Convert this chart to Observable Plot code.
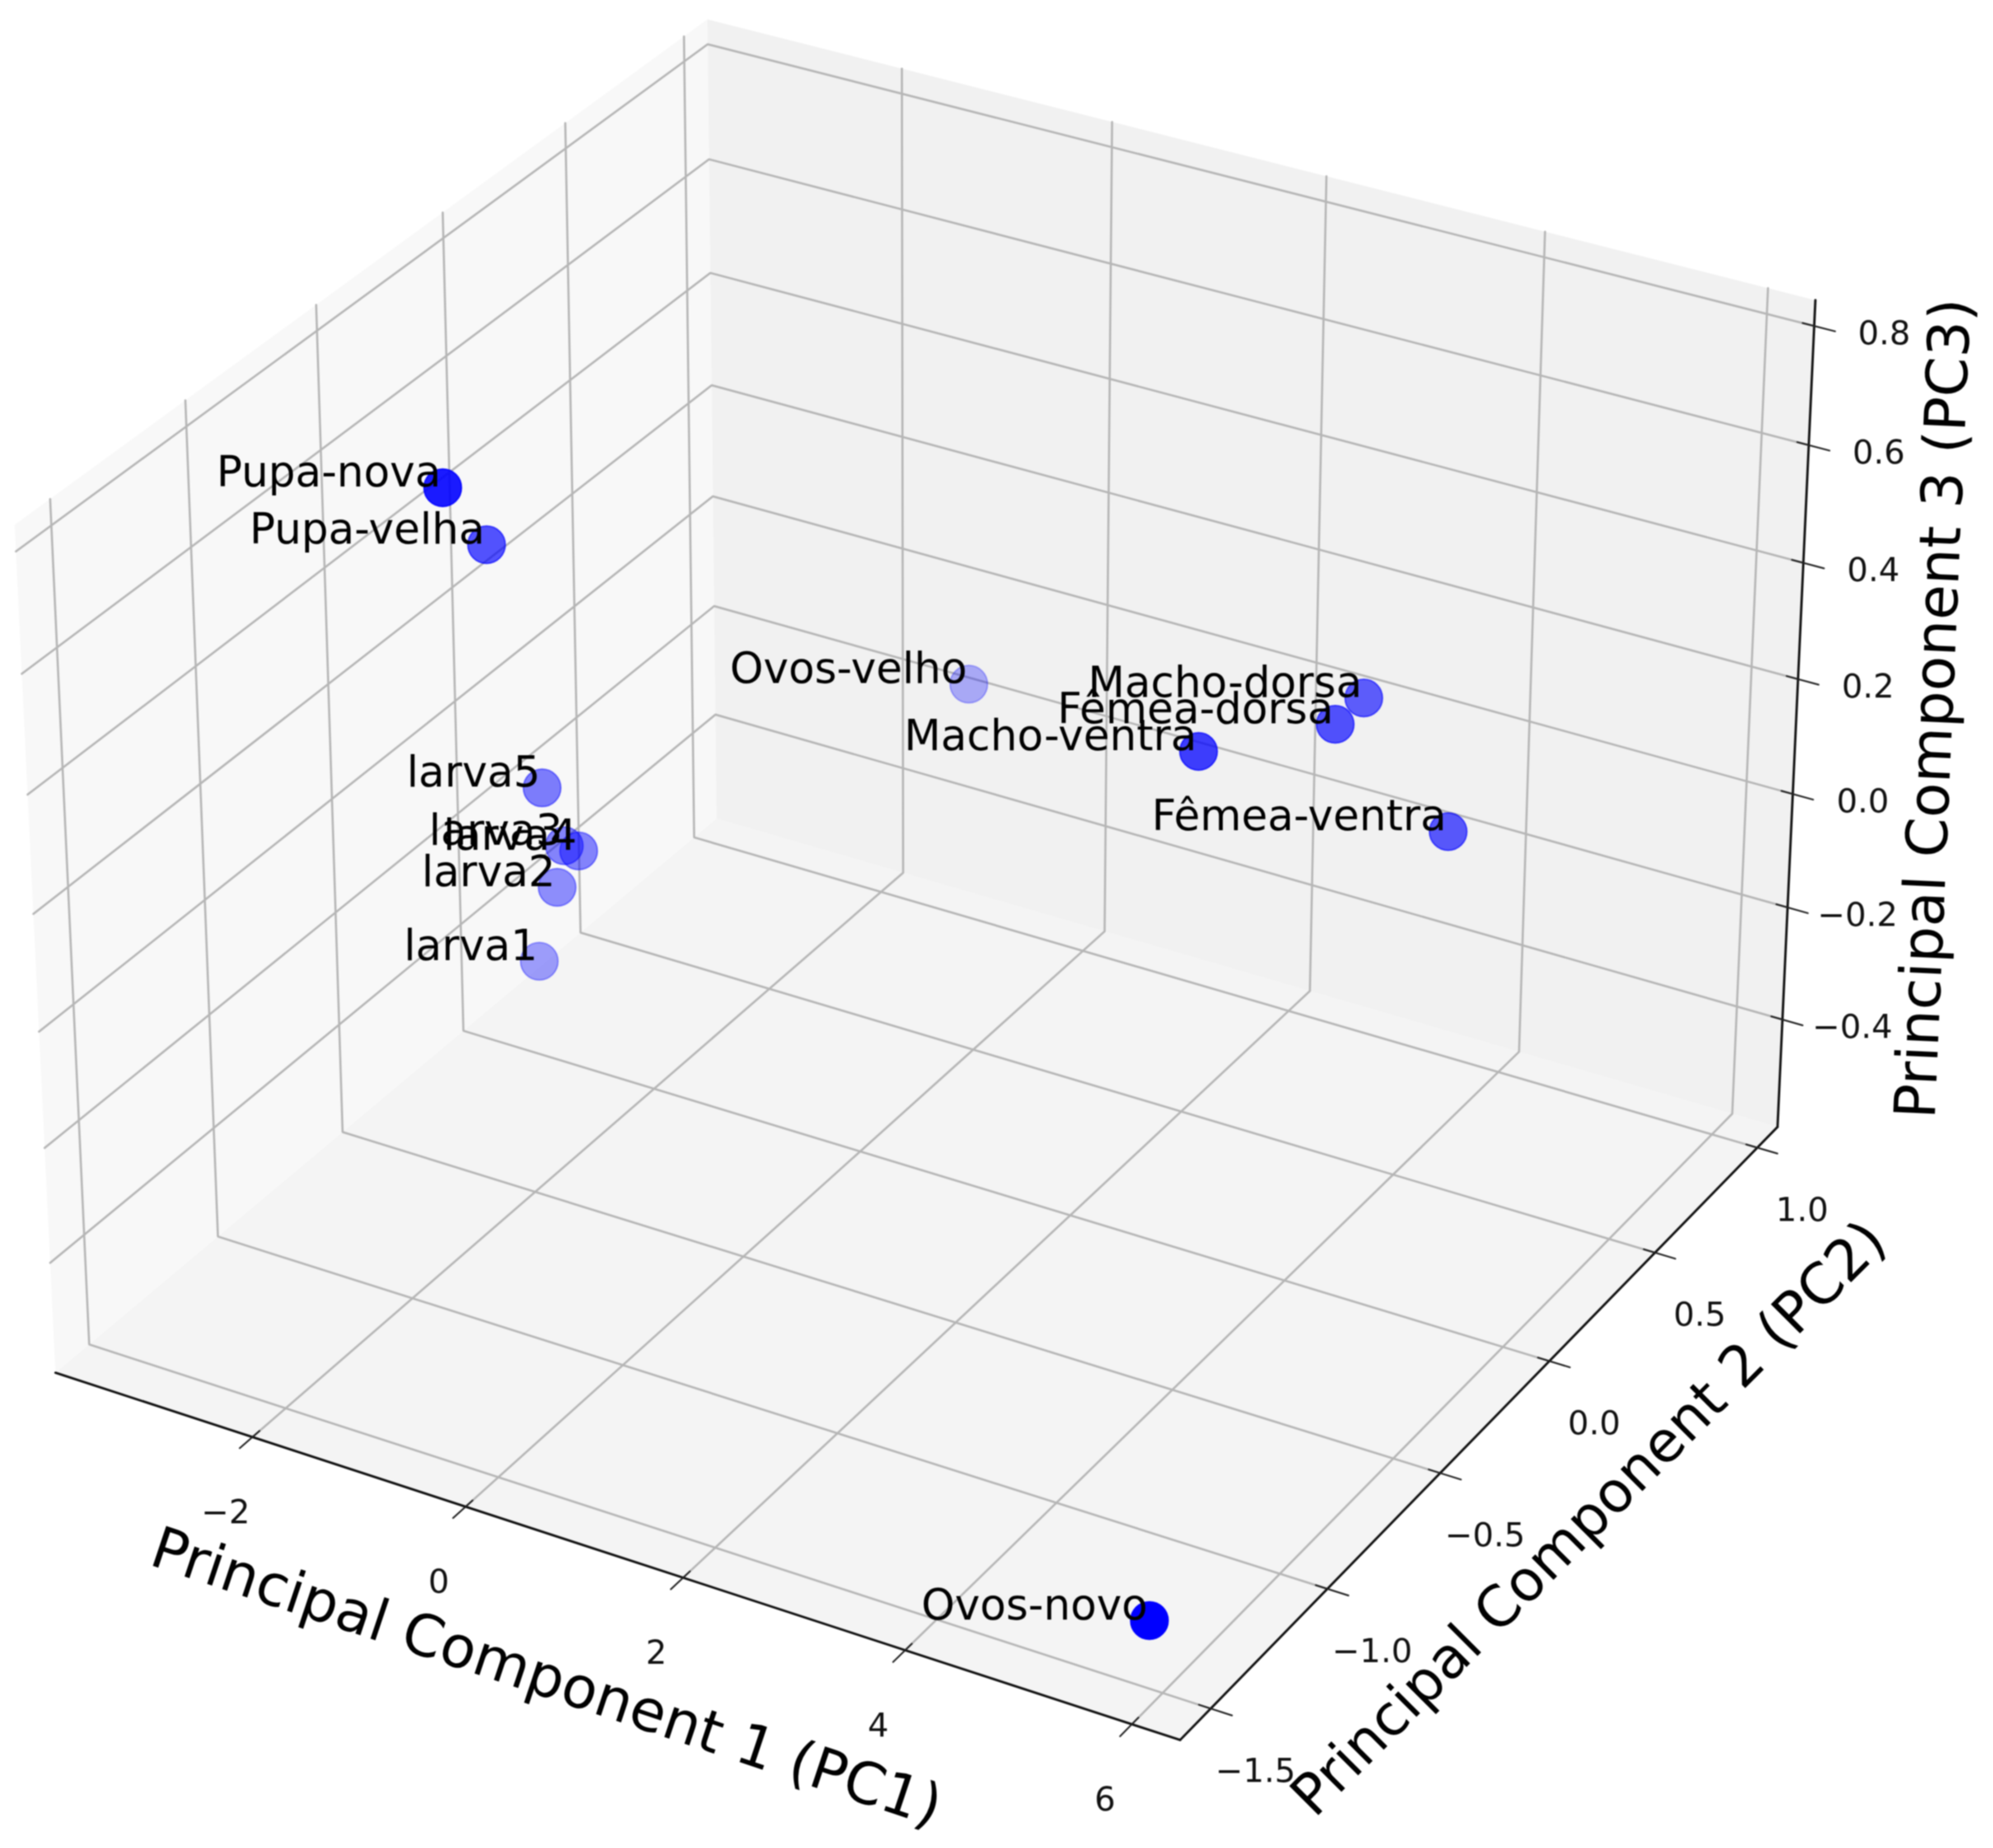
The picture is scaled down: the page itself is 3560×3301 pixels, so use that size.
<!DOCTYPE html>
<html>
<head>
<meta charset="utf-8">
<script src="https://cdn.jsdelivr.net/npm/d3@7"></script>
<script src="https://cdn.jsdelivr.net/npm/@observablehq/plot@0.6"></script>
<style>
  html, body { margin: 0; padding: 0; background: #fff; }
  svg { display: block; filter: blur(1.2px); }
</style>
</head>
<body>
<div id="chart"></div>
<script>
// ---- values ----
const samples = ["Ovos-novo","Pupa-nova","Pupa-velha","Macho-ventra","Fêmea-ventra","Macho-dorsa","Fêmea-dorsa","larva5","larva3","larva4","larva2","larva1","Ovos-velho"];
const pc1 = [5.885,-1.578,-2.594,3.206,4.522,3.558,3.673,-2.746,-2.648,-2.535,-2.853,-3.188,-1.042];
const pc2 = [-1.504,-0.971,-0.390,-0.034,0.448,0.535,0.347,-0.126,-0.081,-0.070,-0.028,0.032,0.959];
const pc3 = [-0.475,0.804,0.468,0.296,0.061,0.211,0.236,-0.050,-0.163,-0.170,-0.267,-0.440,-0.148];

const xTicks = [-2,0,2,4,6];
const yTicks = [-1.5,-1.0,-0.5,0.0,0.5,1.0];
const zTicks = [-0.4,-0.2,0.0,0.2,0.4,0.6,0.8];

const xLim = [-3.885,6.42];
const yLim = [-1.6285,1.1007];
const zLim = [-0.5938,0.843];

const xTitle = "Principal Component 1 (PC1)";
const yTitle = "Principal Component 2 (PC2)";
const zTitle = "Principal Component 3 (PC3)";

// ---- 3D view: elevation 30, azimuth -60, distance 10, box aspect 4:4:3 ----
const elev = 30 * Math.PI / 180, azim = -60 * Math.PI / 180, dist = 10;
const aspect = [4,4,3];
const boxK = 1.8294640721620434 * 25 / 24 / Math.hypot(...aspect);
const box = aspect.map(a => a * boxK);
const w = [Math.cos(elev)*Math.cos(azim), Math.cos(elev)*Math.sin(azim), Math.sin(elev)];
const uLen = Math.hypot(w[1], w[0]);
const u = [-w[1]/uLen, w[0]/uLen, 0];
const v = [w[1]*u[2]-w[2]*u[1], w[2]*u[0]-w[0]*u[2], w[0]*u[1]-w[1]*u[0]];
const dot3 = (a,b) => a[0]*b[0]+a[1]*b[1]+a[2]*b[2];
const norm = (val, lim) => (val - lim[0]) / (lim[1] - lim[0]);
function project(a, b, c) {
  const d = [(norm(a,xLim)-0.5)*box[0], (norm(b,yLim)-0.5)*box[1], (norm(c,zLim)-0.5)*box[2]];
  const depth = dot3(w,d);
  return {px: dot3(u,d)/(dist-depth), py: dot3(v,d)/(dist-depth), depth};
}
const P = (a,b,c,extra={}) => ({...project(a,b,c), ...extra});
const spanX = xLim[1]-xLim[0], spanY = yLim[1]-yLim[0], spanZ = zLim[1]-zLim[0];
const [x0,x1] = xLim, [y0,y1] = yLim, [z0,z1] = zLim;

// ---- panes ----
const paneLeft  = [P(x0,y0,z0),P(x0,y1,z0),P(x0,y1,z1),P(x0,y0,z1)];
const paneBack  = [P(x0,y1,z0),P(x1,y1,z0),P(x1,y1,z1),P(x0,y1,z1)];
const paneFloor = [P(x0,y0,z0),P(x1,y0,z0),P(x1,y1,z0),P(x0,y1,z0)];

// ---- grid lines running across the panes ----
const grid = [
  ...xTicks.flatMap(t => [P(t,y0,z0,{k:"x"+t}),P(t,y1,z0,{k:"x"+t}),P(t,y1,z1,{k:"x"+t})]),
  ...yTicks.flatMap(t => [P(x1,t,z0,{k:"y"+t}),P(x0,t,z0,{k:"y"+t}),P(x0,t,z1,{k:"y"+t})]),
  ...zTicks.flatMap(t => [P(x0,y0,t,{k:"z"+t}),P(x0,y1,t,{k:"z"+t}),P(x1,y1,t,{k:"z"+t})])
];

// ---- axis lines ----
const axisLines = [
  P(x0,y0,z0,{k:"x"}),P(x1,y0,z0,{k:"x"}),
  P(x1,y0,z0,{k:"y"}),P(x1,y1,z0,{k:"y"}),
  P(x1,y1,z0,{k:"z"}),P(x1,y1,z1,{k:"z"})
];

// ---- tick marks and labels ----
const tickOut = 0.018, tickIn = 0.010;
const tickMarks = [
  ...xTicks.flatMap(t => [P(t,y0-tickOut*spanY,z0,{k:"x"+t}),P(t,y0+tickIn*spanY,z0,{k:"x"+t})]),
  ...yTicks.flatMap(t => [P(x1+tickOut*spanX,t,z0,{k:"y"+t}),P(x1-tickIn*spanX,t,z0,{k:"y"+t})]),
  ...zTicks.flatMap(t => [P(x1+tickOut*spanX,y1,t,{k:"z"+t}),P(x1-tickIn*spanX,y1,t,{k:"z"+t})])
];
const minus = s => s.replace("-", "\u2212");
const xTickLabels = xTicks.map(t => P(t,y0,z0,{label:minus(d3.format("d")(t))}));
const yTickLabels = yTicks.map(t => P(x1,t,z0,{label:minus(d3.format(".1f")(t))}));
const zTickLabels = zTicks.map(t => P(x1,y1,t,{label:minus(d3.format(".1f")(t))}));

// ---- points, far to near, faded by depth ----
const projected = samples.map((name,i) => P(pc1[i],pc2[i],pc3[i],{name}));
const [dMin,dMax] = d3.extent(projected, d => d.depth);
projected.forEach(d => { d.alpha = 1 - 0.7*(dMax-d.depth)/(dMax-dMin); });
const points = d3.sort(projected, d => d.depth);

const fontFamily = "'DejaVu Sans'";
const pos = {x:"px", y:"py"};
const chart = Plot.plot({
  width: 3560,
  height: 3301,
  margin: 0,
  x: {axis:null, domain:[-0.08613,0.09803], range:[0,3560]},
  y: {axis:null, domain:[-0.09333,0.07744], range:[3301,0]},
  opacity: {type:"identity"},
  style: {background:"#fff", fontFamily},
  marks: [
    Plot.line(paneLeft,  {...pos, fill:"#f8f8f8", stroke:"none"}),
    Plot.line(paneFloor, {...pos, fill:"#f4f4f4", stroke:"none"}),
    Plot.line(paneBack,  {...pos, fill:"#f1f1f1", stroke:"none"}),
    Plot.line(grid, {...pos, z:"k", stroke:"#b6b6b6", strokeWidth:3.8, strokeLinejoin:"miter"}),
    Plot.line(axisLines, {...pos, z:"k", stroke:"#111", strokeWidth:4.2}),
    Plot.line(tickMarks, {...pos, z:"k", stroke:"#222", strokeWidth:3}),
    Plot.text(xTickLabels, {...pos, text:"label", fontSize:59, dx:-48, dy:135, fill:"#111"}),
    Plot.text(yTickLabels, {...pos, text:"label", fontSize:59, dx:80, dy:112, fill:"#111"}),
    Plot.text(zTickLabels, {...pos, text:"label", fontSize:59, dx:125, dy:14, fill:"#111"}),
    Plot.text([P((x0+x1)/2,y0,z0,{label:xTitle})], {...pos, text:"label", fontSize:103, rotate:18.5, dx:-101, dy:226, fill:"#000"}),
    Plot.text([P(x1,(y0+y1)/2,z0,{label:yTitle})], {...pos, text:"label", fontSize:101, rotate:-45, dx:173, dy:177, fill:"#000"}),
    Plot.text([P(x1,y1,(z0+z1)/2,{label:zTitle})], {...pos, text:"label", fontSize:102, rotate:-87.5, dx:247, dy:-25, fill:"#000"}),
    Plot.dot(points, {...pos, r:33.5, fill:"#0000ff", stroke:"#0000ff", strokeWidth:2.5, fillOpacity:"alpha", strokeOpacity:"alpha"}),
    Plot.text(projected, {...pos, text:"name", fontSize:76, textAnchor:"end", lineAnchor:"bottom", dx:-3, dy:-2, fill:"#000"})
  ]
});
document.getElementById("chart").appendChild(chart);
</script>
</body>
</html>
